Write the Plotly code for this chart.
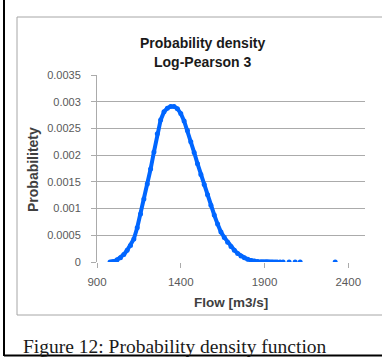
import plotly.graph_objects as go

# ---- data ----
flow = [978, 990, 1000, 1020, 1040, 1060, 1080, 1100, 1120, 1140, 1160, 1180, 1200,
        1220, 1240, 1260, 1280, 1300, 1320, 1340, 1360, 1380, 1400, 1420, 1440,
        1460, 1480, 1500, 1520, 1540, 1560, 1580, 1600, 1620, 1640, 1660, 1680,
        1700, 1720, 1740, 1760, 1780, 1800, 1820, 1840, 1860, 1880]
density = [0.0, 0.000003, 0.00001, 0.00004, 0.00008, 0.00014, 0.00022, 0.00031,
           0.00043, 0.00064, 0.00090, 0.00118, 0.00146, 0.00174, 0.00206, 0.00240,
           0.00266, 0.00281, 0.00288, 0.00291, 0.00291, 0.00287, 0.00278, 0.00264,
           0.00246, 0.00225, 0.00205, 0.00184, 0.00164, 0.00145, 0.00126, 0.00106,
           0.00088, 0.00071, 0.00056, 0.00046, 0.00037, 0.00029, 0.00022, 0.00016,
           0.00011, 0.00008, 0.00005, 0.00003, 0.00002, 0.00001, 0.000005]
tail_flow = [1892, 1905, 1916, 1925, 1933, 1942, 1951, 1963, 1975, 1993, 2011, 2047, 2083, 2113, 2322]
tail_density = [0.000004, 0.000003, 0.000003, 0.000002, 0.000002, 0.000002, 0.000001,
                0.000001, 0.000001, 0.000001, 0.0, 0.0, 0.0, 0.0, 0.0]

x_ticks = [900, 1400, 1900, 2400]
y_ticks = [0, 0.0005, 0.001, 0.0015, 0.002, 0.0025, 0.003, 0.0035]
y_ticktext = ["0", "0.0005", "0.001", "0.0015", "0.002", "0.0025", "0.003", "0.0035"]

title_lines = ["Probability density", "Log-Pearson 3"]
x_title = "Flow [m3/s]"
y_title = "Probabilitety"
caption = "Figure 12: Probability density function"

BLUE = "#0066FF"
GRID = "#ababab"
TICKC = "#595959"
TITLEC = "#404040"

W, H = 382, 359
L, R, T, B = 97, 365, 75, 262  # plot area in pixels


def px(x):
    return (x - L) / (R - L)


def py(y):
    return (B - y) / (B - T)


fig = go.Figure()
fig.add_trace(go.Scatter(x=flow, y=density, mode="lines+markers",
                         line=dict(color=BLUE, width=4),
                         marker=dict(color=BLUE, size=5),
                         showlegend=False, hoverinfo="skip"))
fig.add_trace(go.Scatter(x=tail_flow, y=tail_density, mode="markers",
                         marker=dict(color=BLUE, size=5),
                         showlegend=False, hoverinfo="skip"))

fig.update_layout(
    width=W, height=H,
    margin=dict(l=L, r=W - R, t=T, b=H - B),
    paper_bgcolor="white", plot_bgcolor="white",
    font=dict(family="Liberation Sans, Arial, sans-serif"),
    xaxis=dict(range=[900, 2500], tickvals=x_ticks, showgrid=False,
               zeroline=False, showline=False, ticks="outside", ticklen=5,
               tickcolor=GRID, tickfont=dict(size=11.5, color=TICKC),
               ticklabelstandoff=4),
    yaxis=dict(range=[0, 0.0035], tickvals=y_ticks, ticktext=y_ticktext,
               showgrid=True, gridcolor=GRID, gridwidth=1, zeroline=False,
               showline=True, linecolor=GRID, linewidth=1,
               ticks="outside", ticklen=5, tickcolor=GRID,
               tickfont=dict(size=11, color=TICKC), ticklabelstandoff=8),
)

shapes = [
    # chart area border
    dict(type="rect", xref="paper", yref="paper",
         x0=px(17), x1=px(400), y0=py(315), y1=py(17),
         line=dict(color="#a6a6a6", width=1), layer="below"),
    # document frame lines
    dict(type="line", xref="paper", yref="paper",
         x0=px(4), x1=px(4), y0=py(-5), y1=py(356),
         line=dict(color="black", width=2)),
    dict(type="line", xref="paper", yref="paper",
         x0=px(4), x1=px(400), y0=py(355.5), y1=py(355.5),
         line=dict(color="black", width=2)),
]
fig.update_layout(shapes=shapes)

annotations = []
for text, yy in [(title_lines[0], 43), (title_lines[1], 62)]:
    annotations.append(dict(text="<b>%s</b>" % text, x=px(202), y=py(yy), xref="paper",
                            yref="paper", xanchor="center", yanchor="middle",
                            showarrow=False, font=dict(size=14, color="#1a1a1a")))
annotations.append(dict(text="<b>%s</b>" % x_title, x=px(231), y=py(302), xref="paper",
                        yref="paper", xanchor="center", yanchor="middle", showarrow=False,
                        font=dict(size=13.5, color=TITLEC)))
annotations.append(dict(text="<b>%s</b>" % y_title, x=px(33), y=py(170), xref="paper",
                        yref="paper", xanchor="center", yanchor="middle", showarrow=False,
                        textangle=-90, font=dict(size=14, color=TITLEC)))
annotations.append(dict(text=caption, x=px(21), y=py(346), xref="paper", yref="paper",
                        xanchor="left", yanchor="middle", showarrow=False,
                        font=dict(size=19.5, color="#1a1a1a",
                                  family="Liberation Serif, Times New Roman, serif")))
fig.update_layout(annotations=annotations)

fig.write_html("out.html")
